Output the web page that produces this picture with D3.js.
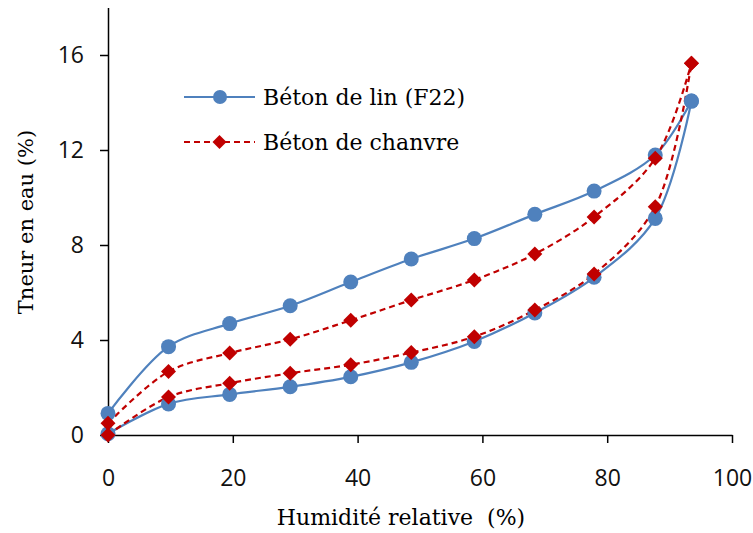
<!DOCTYPE html>
<html>
<head>
<meta charset="utf-8">
<script src="https://cdn.jsdelivr.net/npm/d3@7"></script>
<style>
html,body{margin:0;padding:0;background:#fff;}
svg{display:block;}
</style>
</head>
<body>
<svg id="chart" width="753" height="533"></svg>
<script>
// ---- data ----
const rh = [0, 9.7, 19.5, 29.2, 38.9, 48.6, 58.7, 68.4, 77.9, 87.7, 93.5];
const linAds = [0.05, 1.31, 1.71, 2.03, 2.45, 3.06, 3.94, 5.14, 6.64, 9.12, 14.06];
const linDes = [0.91, 3.72, 4.69, 5.44, 6.44, 7.41, 8.27, 9.29, 10.27, 11.79, 14.06];
const chanvreAds = [0.0, 1.6, 2.18, 2.6, 2.96, 3.47, 4.14, 5.26, 6.78, 9.61, 15.65];
const chanvreDes = [0.49, 2.67, 3.45, 4.03, 4.83, 5.68, 6.53, 7.62, 9.18, 11.65, 15.65];
const xTicks = [0, 20, 40, 60, 80, 100];
const yTicks = [0, 4, 8, 12, 16];
const seriesNames = ["Béton de lin (F22)", "Béton de chanvre"];
const xTitle = "Humidité relative\u00a0 (%)";
const yTitle = "Tneur en eau (%)";

// ---- layout ----
const svg = d3.select("#chart");
const x = d3.scaleLinear().domain([0, 100]).range([108, 732]);
const y = d3.scaleLinear().domain([0, 18]).range([435, 7.5]);
const blue = "#4f81bd", red = "#c00000";
const tickFont = "'Open Sans', 'Noto Sans', sans-serif";
const serif = "'DejaVu Serif', serif";

// axes
const xAxis = svg.append("g").attr("transform", `translate(0,${y(0)})`)
  .call(d3.axisBottom(x).tickValues(xTicks).tickSize(8).tickPadding(27).tickSizeOuter(0));
const yAxis = svg.append("g").attr("transform", `translate(${x(0)},0)`)
  .call(d3.axisLeft(y).tickValues(yTicks).tickSize(8).tickPadding(16).tickSizeOuter(0));
[xAxis, yAxis].forEach(g => {
  g.select(".domain").attr("stroke", "#000").attr("stroke-width", 1.5);
  g.selectAll(".tick line").attr("stroke", "#000").attr("stroke-width", 1.5);
  g.selectAll(".tick text").attr("fill", "#111").style("font-family", tickFont).style("font-size", "23px");
});

// lines
const line = d3.line().x(d => x(d[0])).y(d => y(d[1])).curve(d3.curveCatmullRom.alpha(0.5));
const pts = arr => rh.map((v, i) => [v, arr[i]]);

const groups = [
  {data: [linAds, linDes], color: blue, dash: null, marker: "circle"},
  {data: [chanvreAds, chanvreDes], color: red, dash: "6,4", marker: "diamond"}
];

const diamond = (cx, cy, h) => `M${cx},${cy - h}L${cx + h},${cy}L${cx},${cy + h}L${cx - h},${cy}Z`;

groups.forEach(gp => {
  gp.data.forEach(arr => {
    svg.append("path").attr("d", line(pts(arr))).attr("fill", "none")
      .attr("stroke", gp.color).attr("stroke-width", 2.2)
      .attr("stroke-dasharray", gp.dash);
  });
});
groups.forEach(gp => {
  gp.data.forEach(arr => {
    const p = pts(arr);
    if (gp.marker === "circle") {
      svg.append("g").selectAll("circle").data(p).join("circle")
        .attr("cx", d => x(d[0])).attr("cy", d => y(d[1])).attr("r", 7.5).attr("fill", gp.color);
    } else {
      svg.append("g").selectAll("path").data(p).join("path")
        .attr("d", d => diamond(x(d[0]), y(d[1]), 7.5)).attr("fill", gp.color);
    }
  });
});

// legend
const legY = [97, 142];
groups.forEach((gp, i) => {
  const g = svg.append("g");
  g.append("line").attr("x1", 184).attr("x2", 255).attr("y1", legY[i]).attr("y2", legY[i])
    .attr("stroke", gp.color).attr("stroke-width", 2.2).attr("stroke-dasharray", gp.dash);
  if (gp.marker === "circle") g.append("circle").attr("cx", 220).attr("cy", legY[i]).attr("r", 7).attr("fill", gp.color);
  else g.append("path").attr("d", diamond(219.5, legY[i], 7)).attr("fill", gp.color);
  g.append("text").attr("x", 263).attr("y", legY[i]).attr("dy", "0.35em")
    .style("font-family", serif).style("font-size", "22px").attr("fill", "#000").text(seriesNames[i]);
});

// axis titles
svg.append("text").attr("x", 401).attr("y", 525).attr("text-anchor", "middle")
  .style("font-family", serif).style("font-size", "22px").attr("fill", "#000").text(xTitle);
svg.append("text").attr("transform", "translate(33,222) rotate(-90)").attr("text-anchor", "middle")
  .style("font-family", serif).style("font-size", "21px").attr("fill", "#000").text(yTitle);
</script>
</body>
</html>
